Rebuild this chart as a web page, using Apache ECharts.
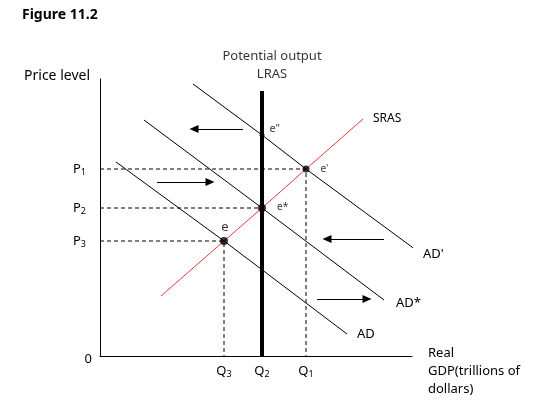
<!DOCTYPE html>
<html><head><meta charset="utf-8">
<script src="https://cdn.jsdelivr.net/npm/echarts@6/dist/echarts.min.js"></script>
<style>html,body{margin:0;padding:0;background:#fff}#c{width:543px;height:415px}</style>
</head><body><div id="c"></div>
<script>
// ---- data (arbitrary model units) ----
const qSubs = ['3', '2', '1'];          // Q3, Q2, Q1
const qValues = [124, 162, 206];
const pSubs = ['3', '2', '1'];          // P3, P2, P1
const pValues = [115, 148, 187];
const adCurve = [[16, 194], [124, 115], [247, 22]];
const adStarCurve = [[44, 236], [162, 148], [284, 56]];
const adPrimeCurve = [[93, 272], [162, 221], [206, 187], [316, 106]];
const srasCurve = [[61, 60], [124, 115], [162, 148], [206, 187], [263, 237]];
const lrasX = 162;
const lrasTop = 265;
const eqNames = ['e', 'e*', "e'", 'e"'];
const eqX = [124, 162, 206, 162];
const eqY = [115, 148, 187, 221];
const arrowStarts = [[143, 227], [57, 174], [284, 117], [217, 57]];
const arrowEnds = [[94, 227], [110, 174], [227, 117], [267, 57]];

const FONT = 'Noto Sans';
const base = { fontFamily: FONT, color: '#000' };
const subRich = {
  s: { fontFamily: FONT, fontSize: 9, color: '#000', padding: [7, 0, 0, 0] },
  z: { fontFamily: FONT, fontSize: 13, color: '#000', padding: [7, 0, 0, 0] },
  pr: { fontFamily: FONT, fontSize: 9, color: '#000', padding: [7, 6, 0, 0] }
};

function curveSeries(data, color, name, lbl) {
  return {
    type: 'line', data: data, showSymbol: false, clip: false, silent: true,
    lineStyle: { color: color, width: 1 }, z: 3,
    endLabel: Object.assign({ show: true, formatter: name, fontFamily: FONT, fontSize: 13, color: '#000' }, lbl),
    emphasis: { disabled: true }
  };
}

const series = [];
// dashed guides
pValues.forEach((p, i) => {
  const q = qValues[i];
  const d = (i === 1) ? [[0, p], [q, p]] : [[0, p], [q, p], [q, 0]];
  series.push({
    type: 'line', data: d, showSymbol: false, clip: false, silent: true, z: 2,
    lineStyle: { color: '#000', width: 1, type: [4, 3] }, emphasis: { disabled: true }
  });
});
series.push(curveSeries(adCurve, '#000', 'AD', { distance: 10, offset: [0, 0] }));
series.push(curveSeries(adStarCurve, '#000', 'AD*', { distance: 12, offset: [0, 3] }));
series.push(curveSeries(adPrimeCurve, '#000', "AD'", { distance: 10, offset: [0, 7] }));
series.push(curveSeries(srasCurve, '#e8393c', 'SRAS', { distance: 10, fontSize: 12 }));
// LRAS
series.push({
  type: 'line', data: [[lrasX, 0], [lrasX, lrasTop]], showSymbol: false, silent: true, z: 4,
  lineStyle: { color: '#000', width: 4 }, emphasis: { disabled: true }
});
series.push({
  type: 'scatter', data: [[lrasX, lrasTop]], symbolSize: 0, silent: true,
  label: { show: true, position: 'top', distance: 8, offset: [10, 0], formatter: 'Potential output\nLRAS',
    fontFamily: FONT, fontSize: 13, lineHeight: 18, color: '#000', align: 'center' }
});
// equilibrium points
const eqLabelCfg = [
  { position: 'top', distance: 3, fontSize: 13, offset: [1, 0] },
  { position: 'right', distance: 11, fontSize: 10, offset: [0, -1] },
  { position: 'right', distance: 11, fontSize: 10, offset: [0, 0] },
  { position: 'right', distance: 5, fontSize: 11, offset: [0, -6] }
];
const eqSizes = [8, 8, 7, 5];
series.push({
  type: 'scatter', silent: true, z: 6,
  data: eqNames.map((n, i) => ({
    value: [eqX[i], eqY[i]], symbolSize: eqSizes[i],
    label: Object.assign({ show: true, formatter: n, fontFamily: FONT, color: '#000' }, eqLabelCfg[i])
  })),
  itemStyle: { color: '#000' }
});
// arrows
series.push({
  type: 'line', data: [], silent: true,
  markLine: {
    silent: true, symbol: ['none', 'triangle'], symbolSize: [8, 9], animation: false,
    label: { show: false },
    lineStyle: { color: '#000', width: 1, type: 'solid' },
    emphasis: { disabled: true },
    data: arrowStarts.map((s, i) => [{ coord: s }, { coord: arrowEnds[i] }])
  }
});

const option = {
  animation: false,
  title: { text: 'Figure 11.2', left: 17, top: 3, textStyle: Object.assign({ fontSize: 14, fontWeight: 'bold' }, base) },
  grid: { left: 100, top: 79, width: 312, height: 277 },
  xAxis: {
    type: 'value', min: 0, max: 312,
    axisLine: { lineStyle: { color: '#000', width: 1 } },
    axisTick: { show: false }, splitLine: { show: false },
    axisLabel: {
      customValues: qValues, margin: 7,
      formatter: v => 'Q{s|' + qSubs[qValues.indexOf(v)] + '}', rich: subRich,
      fontFamily: FONT, fontSize: 13, color: '#000'
    },
    name: '{g| }\nReal\nGDP(trillions of\ndollars)', nameLocation: 'end', nameGap: 16,
    nameTextStyle: { fontFamily: FONT, fontSize: 13, color: '#000', align: 'left', verticalAlign: 'middle', lineHeight: 18,
      rich: { g: { lineHeight: 30, fontSize: 13 } } }
  },
  yAxis: {
    type: 'value', min: 0, max: 277,
    axisLine: { lineStyle: { color: '#000', width: 1 } },
    axisTick: { show: false }, splitLine: { show: false },
    axisLabel: {
      customValues: [0].concat(pValues), margin: 8,
      formatter: v => v === 0 ? '{z|0}' : 'P{pr|' + pSubs[pValues.indexOf(v)] + '}', rich: subRich,
      fontFamily: FONT, fontSize: 13, color: '#000'
    },
    name: 'Price level', nameLocation: 'end', nameGap: 3,
    nameTextStyle: { fontFamily: FONT, fontSize: 14, color: '#000', align: 'right', verticalAlign: 'middle', padding: [0, 10, 0, 0] }
  },
  series: series
};
const chart = echarts.init(document.getElementById('c'), null, { renderer: 'canvas' });
chart.setOption(option);
</script>
</body></html>
